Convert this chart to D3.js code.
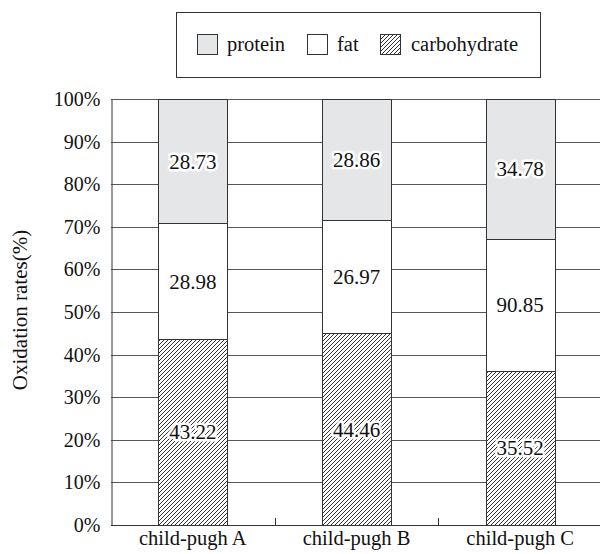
<!DOCTYPE html>
<html>
<head>
<meta charset="utf-8">
<script src="https://cdn.jsdelivr.net/npm/d3@7/dist/d3.min.js"></script>
<style>
  html, body { margin: 0; padding: 0; background: #fff; }
  svg { display: block; }
</style>
</head>
<body>
<svg id="chart" width="600" height="554"></svg>
<script>
// ---- data ----
const categories = ["child-pugh A", "child-pugh B", "child-pugh C"];
const seriesNames = ["carbohydrate", "fat", "protein"];
// bar shares (% of oxidation)
const carbohydrateShare = [43.6, 45.0, 36.2];
const fatShare = [27.2, 26.6, 30.9];
const proteinShare = [29.2, 28.4, 32.9];
// printed labels
const carbohydrateLabels = ["43.22", "44.46", "35.52"];
const fatLabels = ["28.98", "26.97", "90.85"];
const proteinLabels = ["28.73", "28.86", "34.78"];
const yTicks = [0, 10, 20, 30, 40, 50, 60, 70, 80, 90, 100];
const legendOrder = ["protein", "fat", "carbohydrate"];

// ---- setup ----
const FONT = '"Liberation Serif", "Times New Roman", Times, serif';
const TXT = "#111";
const svg = d3.select("#chart");
const mLeft = 111, mRight = 602, mTop = 99, mBottom = 525;

const rows = categories.map((c, i) => ({
  category: c,
  carbohydrate: carbohydrateShare[i],
  fat: fatShare[i],
  protein: proteinShare[i]
}));
const labels = { carbohydrate: carbohydrateLabels, fat: fatLabels, protein: proteinLabels };

const x = d3.scaleBand().domain(categories).range([mLeft, mRight])
  .paddingInner(0.58).paddingOuter(0.29);
const y = d3.scaleLinear().domain([0, 100]).range([mBottom, mTop]);

const defs = svg.append("defs");
const pat = defs.append("pattern").attr("id", "hatch")
  .attr("patternUnits", "userSpaceOnUse").attr("width", 4).attr("height", 4);
pat.append("rect").attr("width", 4).attr("height", 4).attr("fill", "#fff");
pat.append("path").attr("d", "M-1,1 l2,-2 M0,4 l4,-4 M3,5 l2,-2")
  .attr("stroke", "#333").attr("stroke-width", 1);

const fills = { carbohydrate: "url(#hatch)", fat: "#ffffff", protein: "#e5e6e8" };

// gridlines
svg.append("g").selectAll("line").data(yTicks).join("line")
  .attr("x1", mLeft).attr("x2", 600)
  .attr("y1", d => Math.round(y(d)) + 0.5).attr("y2", d => Math.round(y(d)) + 0.5)
  .attr("stroke", "#555").attr("stroke-width", 1);

// y axis
const yAxis = svg.append("g").attr("transform", `translate(${mLeft + 0.5},0)`)
  .call(d3.axisLeft(y).tickValues(yTicks).tickFormat(d => d + "%").tickSize(0).tickPadding(11));
yAxis.select(".domain").attr("stroke", "#333");
yAxis.selectAll("text").style("font-family", FONT).style("font-size", "20px").attr("fill", TXT);

// stacked bars
const stack = d3.stack().keys(seriesNames);
const stacked = stack(rows);
const bw = x.bandwidth();
const layers = svg.append("g").selectAll("g").data(stacked).join("g");
layers.selectAll("rect").data(d => d.map(s => ({ s, key: d.key }))).join("rect")
  .attr("x", d => Math.round(x(d.s.data.category)) + 0.5)
  .attr("width", Math.round(bw))
  .attr("y", d => Math.round(y(d.s[1])) + 0.5)
  .attr("height", d => Math.round(y(d.s[0])) - Math.round(y(d.s[1])))
  .attr("fill", d => fills[d.key])
  .attr("stroke", "#333").attr("stroke-width", 1);

// value labels
const lab = svg.append("g");
stacked.forEach(layer => {
  layer.forEach((s, i) => {
    const cx = x(s.data.category) + bw / 2;
    const cy = (y(s[0]) + y(s[1])) / 2;
    lab.append("text")
      .attr("x", cx).attr("y", cy).attr("dy", "0.35em")
      .attr("text-anchor", "middle")
      .style("font-family", FONT).style("font-size", "21px")
      .attr("fill", TXT)
      .attr("stroke", "#fff").attr("stroke-width", 5).attr("stroke-linejoin", "round")
      .attr("paint-order", "stroke")
      .text(labels[layer.key][i]);
  });
});

// x axis
const xAxisG = svg.append("g");
xAxisG.append("line").attr("x1", mLeft).attr("x2", 600)
  .attr("y1", mBottom + 0.5).attr("y2", mBottom + 0.5).attr("stroke", "#333");
const step = x.step();
const boundaries = d3.range(1, categories.length).map(i => x(categories[i]) - step * x.paddingInner() / 2);
xAxisG.selectAll("line.tick").data(boundaries).join("line").attr("class", "tick")
  .attr("x1", d => Math.round(d) + 0.5).attr("x2", d => Math.round(d) + 0.5)
  .attr("y1", mBottom).attr("y2", mBottom - 7).attr("stroke", "#333");
xAxisG.selectAll("text").data(categories).join("text")
  .attr("x", d => x(d) + bw / 2).attr("y", 545)
  .attr("text-anchor", "middle")
  .style("font-family", FONT).style("font-size", "20.5px").attr("fill", TXT)
  .text(d => d);

// y title
svg.append("text")
  .attr("transform", "translate(27,310) rotate(-90)")
  .attr("text-anchor", "middle")
  .style("font-family", FONT).style("font-size", "21px").attr("fill", TXT)
  .text("Oxidation rates(%)");

// legend
const lg = svg.append("g");
lg.append("rect").attr("x", 176.5).attr("y", 12.5).attr("width", 364).attr("height", 65)
  .attr("fill", "#fff").attr("stroke", "#333");
const legendX = [197, 307, 380];
const legendTextX = [227, 337, 411];
lg.selectAll("rect.sw").data(legendOrder).join("rect").attr("class", "sw")
  .attr("x", (d, i) => legendX[i] + 0.5).attr("y", 34.5).attr("width", 20).attr("height", 20)
  .attr("fill", d => fills[d]).attr("stroke", "#333");
lg.selectAll("text").data(legendOrder).join("text")
  .attr("x", (d, i) => legendTextX[i]).attr("y", 51)
  .style("font-family", FONT).style("font-size", "20.5px").attr("fill", TXT)
  .text(d => d);
</script>
</body>
</html>
